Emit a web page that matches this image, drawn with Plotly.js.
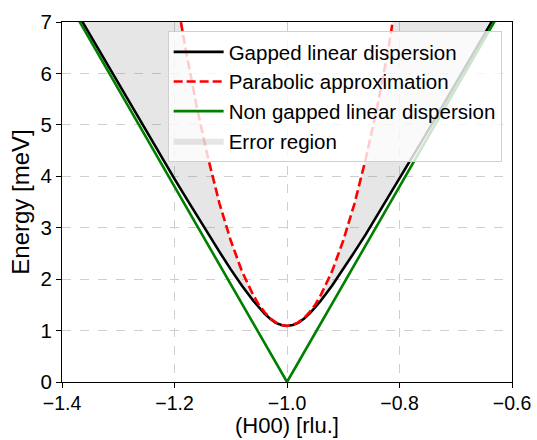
<!DOCTYPE html>
<html>
<head>
<meta charset="utf-8">
<script src="https://cdn.plot.ly/plotly-3.0.1.min.js"></script>
<style>html,body{margin:0;padding:0;background:#fff;}#chart{width:537px;height:440px;}</style>
</head>
<body>
<div id="chart"></div>
<script>
// (H00) positions in r.l.u.
const hValues = [-1.40,-1.36,-1.32,-1.28,-1.24,-1.20,-1.18,-1.16,-1.14,-1.12,-1.10,-1.08,-1.06,-1.05,-1.04,-1.03,-1.02,-1.01,-1.00,
                 -0.99,-0.98,-0.97,-0.96,-0.95,-0.94,-0.92,-0.90,-0.88,-0.86,-0.84,-0.82,-0.80,-0.76,-0.72,-0.68,-0.64,-0.60];
// Gapped linear dispersion (meV)
const gappedEnergy = [7.68,6.93,6.18,5.43,4.69,3.95,3.59,3.23,2.87,2.53,2.19,1.87,1.58,1.45,1.33,1.23,1.15,1.11,1.09,
                      1.11,1.15,1.23,1.33,1.45,1.58,1.87,2.19,2.53,2.87,3.23,3.59,3.95,4.69,5.43,6.18,6.93,7.68];
// Parabolic approximation (meV)
const parabolicEnergy = [27.59,22.55,18.05,14.07,10.63,7.71,6.46,5.33,4.34,3.47,2.75,2.15,1.69,1.50,1.36,1.24,1.16,1.11,1.09,
                         1.11,1.16,1.24,1.36,1.50,1.69,2.15,2.75,3.47,4.34,5.33,6.46,7.71,10.63,14.07,18.05,22.55,27.59];
// Non gapped linear dispersion (meV)
const linearEnergy = [7.60,6.84,6.08,5.32,4.56,3.80,3.42,3.04,2.66,2.28,1.90,1.52,1.14,0.95,0.76,0.57,0.38,0.19,0.00,
                      0.19,0.38,0.57,0.76,0.95,1.14,1.52,1.90,2.28,2.66,3.04,3.42,3.80,4.56,5.32,6.08,6.84,7.60];

const xTicks = [-1.4,-1.2,-1.0,-0.8,-0.6];
const xTickText = ['\u22121.4','\u22121.2','\u22121.0','\u22120.8','\u22120.6'];
const yTicks = [0,1,2,3,4,5,6,7];
const xTitle = '(H00) [rlu.]';
const yTitle = 'Energy [meV]';

const FONT = 'Liberation Sans, Arial, Helvetica, sans-serif';

const traces = [
  {x: hValues, y: gappedEnergy, mode: 'lines', line: {width: 0, color: 'rgba(0,0,0,0)'},
   showlegend: false, hoverinfo: 'skip'},
  {x: hValues, y: parabolicEnergy, mode: 'lines', line: {width: 0, color: 'rgba(0,0,0,0)'},
   fill: 'tonexty', fillcolor: 'rgba(128,128,128,0.2)', name: 'Error region', legendrank: 4},
  {x: hValues, y: gappedEnergy, mode: 'lines', line: {color: '#000000', width: 2.6},
   name: 'Gapped linear dispersion', legendrank: 1},
  {x: hValues, y: linearEnergy, mode: 'lines', line: {color: '#008000', width: 2.6},
   name: 'Non gapped linear dispersion', legendrank: 3},
  {x: hValues, y: parabolicEnergy, mode: 'lines', line: {color: '#ff0000', width: 2.6, dash: '9px,4px'},
   name: 'Parabolic approximation', legendrank: 2}
];

const layout = {
  width: 537, height: 440,
  margin: {l: 62, r: 25, t: 22, b: 58, pad: 0},
  paper_bgcolor: '#ffffff', plot_bgcolor: '#ffffff',
  font: {family: FONT, color: '#000000', size: 20},
  showlegend: true,
  legend: {x: 0.977, xanchor: 'right', y: 0.975, yanchor: 'top', itemwidth: 50,
           bgcolor: 'rgba(255,255,255,0.8)', bordercolor: '#d0d0d0', borderwidth: 1,
           font: {family: FONT, size: 20.5, color: '#000000'}, traceorder: 'normal'},
  xaxis: {range: [-1.4, -0.6], tickvals: xTicks, ticktext: xTickText,
          showline: true, linecolor: '#000000', linewidth: 1, mirror: true,
          ticks: 'outside', ticklen: 5, tickcolor: '#000000', ticklabelstandoff: -1,
          showgrid: true, gridcolor: '#cfcfcf', griddash: 'dash', gridwidth: 1,
          zeroline: false, tickfont: {size: 19.5}},
  yaxis: {range: [0, 7], tickvals: yTicks,
          showline: true, linecolor: '#000000', linewidth: 1, mirror: true,
          ticks: 'outside', ticklen: 5, tickcolor: '#000000',
          showgrid: true, gridcolor: '#cfcfcf', griddash: 'dash', gridwidth: 1,
          zeroline: false, tickfont: {size: 20.5},
          title: {text: yTitle, font: {size: 24}, standoff: 4}},
  annotations: [
    {text: xTitle, xref: 'paper', yref: 'paper', x: 0.5, y: -0.121, xanchor: 'center', yanchor: 'middle',
     showarrow: false, borderpad: 0, font: {family: FONT, size: 22, color: '#000000'}}
  ]
};

Plotly.newPlot('chart', traces, layout, {staticPlot: true, displayModeBar: false});
</script>
</body>
</html>
